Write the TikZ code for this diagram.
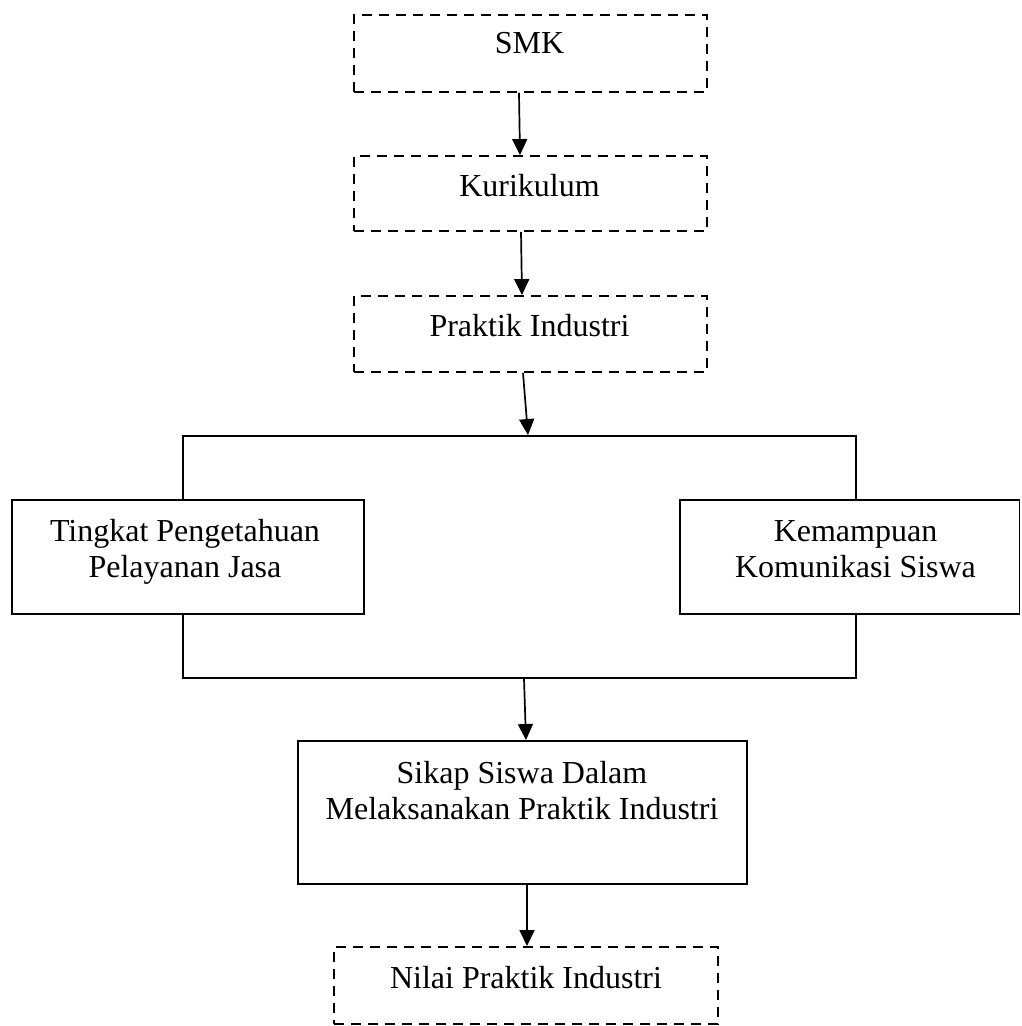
\documentclass[tikz,border=0pt]{standalone}
\usepackage{fontspec}
\setmainfont{Liberation Serif}
\usetikzlibrary{arrows.meta}
\begin{document}
\begin{tikzpicture}[x=1pt,y=-1pt,
  box/.style={draw, line width=1.9pt, fill=white, inner sep=0pt},
  dbox/.style={box, dash pattern=on 10pt off 7pt},
  lbl/.style={font=\fontsize{32}{36}\selectfont, inner sep=0pt, align=center, anchor=base},
  arr/.style={-{Triangle[length=16pt,width=15pt]}, line width=1.7pt}]
\useasboundingbox (0,0) rectangle (1021,1026);
% dashed top boxes
\node[dbox, minimum width=353pt, minimum height=77pt] (smk) at (530.5,53.5) {};
\node[lbl] (smkt) at (529.5,53) {SMK};
\node[dbox, minimum width=353pt, minimum height=75pt] (kur) at (530.5,193.5) {};
\node[lbl] (kurt) at (529.5,196.5) {Kurikulum};
\node[dbox, minimum width=353pt, minimum height=76pt] (prak) at (530.5,334) {};
\node[lbl] (prakt) at (529.5,336.5) {Praktik Industri};
% frame
\node[box, fill=none, minimum width=673pt, minimum height=242pt] (frame) at (519.5,557) {};
\node[box, minimum width=352pt, minimum height=114pt] (left) at (188,557) {};
\node[lbl] (leftt) at (185,577) {Tingkat Pengetahuan\\Pelayanan Jasa};
\node[box, minimum width=339.5pt, minimum height=114pt] (right) at (849.75,557) {};
\node[lbl] (rightt) at (855.5,577) {Kemampuan\\Komunikasi Siswa};
% lower boxes
\node[box, minimum width=449pt, minimum height=143pt] (sikap) at (522.5,812.5) {};
\node[lbl] (sikapt) at (522,819) {Sikap Siswa Dalam\\Melaksanakan Praktik Industri};
\node[dbox, minimum width=384pt, minimum height=77pt] (nilai) at (526,985.5) {};
\node[lbl] (nilait) at (526,988) {Nilai Praktik Industri};
% arrows
\draw[arr] ([xshift=-11.5pt]smk.south) -- ([xshift=-10.5pt]kur.north);
\draw[arr] ([xshift=-9.5pt]kur.south) -- ([xshift=-8.5pt]prak.north);
\draw[arr] ([xshift=-7.5pt]prak.south) -- ([xshift=8.5pt]frame.north);
\draw[arr] ([xshift=4.5pt]frame.south) -- ([xshift=3.5pt]sikap.north);
\draw[arr] ([xshift=4.5pt]sikap.south) -- ([xshift=1pt]nilai.north);
\end{tikzpicture}
\end{document}
